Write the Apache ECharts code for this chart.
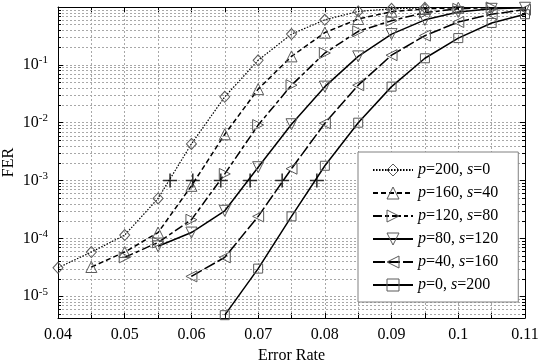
<!DOCTYPE html>
<html><head><meta charset="utf-8">
<script src="https://cdn.jsdelivr.net/npm/echarts@6/dist/echarts.min.js"></script>
<style>html,body{margin:0;padding:0;background:#fff}#c{width:543px;height:364px}</style>
</head><body><div id="c"></div><script>
// ---- data ----
const errorRates = [0.04,0.045,0.05,0.055,0.06,0.065,0.07,0.075,0.08,0.085,0.09,0.095,0.1,0.105,0.11];
const seriesNames = ['p=200, s=0','p=160, s=40','p=120, s=80','p=80, s=120','p=40, s=160','p=0, s=200'];
const fer_p200_s0  = [3.1e-5,5.8e-5,1.14e-4,4.9e-4,4.3e-3,0.028,0.12,0.34,0.60,0.84,0.93,0.97,null,null,null];
const fer_p160_s40 = [null,3.2e-5,5.8e-5,1.26e-4,8.1e-4,6.3e-3,0.038,0.14,0.36,0.62,0.83,0.93,0.97,null,null];
const fer_p120_s80 = [null,null,4.7e-5,8.5e-5,2.1e-4,1.3e-3,9.1e-3,0.0445,0.16,0.38,0.58,0.80,0.93,0.98,null];
const fer_p80_s120 = [null,null,null,7.3e-5,1.26e-4,3.0e-4,1.7e-3,9.4e-3,0.042,0.14,0.34,0.60,0.82,0.93,0.97];
const fer_p40_s160 = [null,null,null,null,2.2e-5,4.7e-5,2.4e-4,1.6e-3,9.8e-3,0.0445,0.147,0.32,0.55,0.75,0.90];
const fer_p0_s200  = [null,null,null,null,null,4.7e-6,3.0e-5,2.4e-4,1.8e-3,0.010,0.042,0.13,0.29,0.53,0.75];
const thresholdRates = [0.0568,0.0602,0.0644,0.0688,0.0736,0.0788];
const thresholdFER = 1e-3;
const xMin = 0.04, xMax = 0.11, yMin = 4.2e-6, yMax = 1;

// minor log grid positions (2..9 x 10^k)
const minorFER = [];
for (let k = -6; k <= -1; k++) for (let m = 2; m <= 9; m++) {
  const v = m * Math.pow(10, k);
  if (v > yMin && v < yMax) minorFER.push(v);
}

const FONT = 'Liberation Serif';
const gridLine = {color:'#a8a8a8', width:1, type:[2,2]};

const styles = [
  {symbol:'diamond', rot:0, size:[10,11], dash:[1.5,1.5], w:1.2},
  {symbol:'triangle', rot:0, size:11, dash:[5,3], w:1.5},
  {symbol:'triangle', rot:-90, size:11, dash:[9,3,4,3], w:1.5},
  {symbol:'triangle', rot:180, size:11, dash:'solid', w:1.5},
  {symbol:'triangle', rot:90, size:11, dash:[12,3], w:1.5},
  {symbol:'rect', rot:0, size:9, dash:'solid', w:1.5}
];
const allFER = [fer_p200_s0, fer_p160_s40, fer_p120_s80, fer_p80_s120, fer_p40_s160, fer_p0_s200];

const lineSeries = allFER.map((vals, i) => ({
  name: seriesNames[i],
  type: 'line',
  data: errorRates.map((x, j) => vals[j] == null ? null : [x, vals[j]]).filter(d => d),
  symbol: styles[i].symbol,
  symbolRotate: styles[i].rot,
  symbolSize: styles[i].size,
  showAllSymbol: true,
  lineStyle: {color:'#000', width: styles[i].w, type: styles[i].dash},
  itemStyle: {color:'rgba(255,255,255,0)', borderColor:'#5a5a5a', borderWidth:1},
  emphasis: {disabled:true},
  animation: false,
  z: 3
}));

const chart = echarts.init(document.getElementById('c'), null, {renderer:'canvas'});
chart.setOption({
  animation: false,
  backgroundColor: '#fff',
  textStyle: {fontFamily: FONT},
  grid: {left:58, right:18, top:7, bottom:46, containLabel:false, outerBoundsMode:'none'},
  legend: {
    data: seriesNames.map(n => ({name:n, itemStyle:{color:'rgba(255,255,255,0)', borderColor:'#5a5a5a', borderWidth:1}})),
    orient: 'vertical', left: 358, top: 152,
    padding: [10, 20, 9, 14],
    itemWidth: 40, itemHeight: 15, itemGap: 7,
    backgroundColor: '#fff', borderColor: '#808080', borderWidth: 1,
    selectedMode: false,
    formatter: n => n.replace(/([ps])=/g, '{i|$1}='),
    textStyle: {fontFamily: FONT, fontSize: 16, lineHeight: 16, color:'#000',
      rich: {i: {fontFamily: FONT, fontSize: 16, lineHeight: 16, fontStyle: 'italic', color:'#000'}}}
  },
  xAxis: [{
    type:'value', min:xMin, max:xMax, interval:0.01,
    name:'Error Rate', nameLocation:'middle', nameGap:26,
    nameTextStyle:{fontFamily:FONT, fontSize:16, color:'#000'},
    axisLine:{show:true, onZero:false, lineStyle:{color:'#000', width:1}},
    axisTick:{show:true, inside:true, length:5, lineStyle:{color:'#000'}},
    minorTick:{show:true, splitNumber:2, length:5, lineStyle:{color:'#000'}},
    splitLine:{show:true, lineStyle:gridLine},
    minorSplitLine:{show:true, lineStyle:gridLine},
    axisLabel:{fontFamily:FONT, fontSize:16, color:'#000', margin:9, formatter: v => String(+v.toFixed(3))}
  },{
    type:'value', min:xMin, max:xMax, interval:0.01, position:'top',
    axisLine:{show:true, onZero:false, lineStyle:{color:'#000', width:1}},
    axisTick:{show:true, inside:true, length:5, lineStyle:{color:'#000'}},
    minorTick:{show:true, splitNumber:2, length:5, lineStyle:{color:'#000'}},
    splitLine:{show:false}, axisLabel:{show:false}
  }],
  yAxis: [{
    type:'log', logBase:10, min:yMin, max:yMax,
    name:'FER', nameLocation:'middle', nameGap:41, nameMoveOverlap:false,
    nameTextStyle:{fontFamily:FONT, fontSize:16, color:'#000'},
    axisLine:{show:true, onZero:false, lineStyle:{color:'#000', width:1}},
    axisTick:{show:true, inside:true, length:5, lineStyle:{color:'#000'}},
    splitLine:{show:true, lineStyle:gridLine},
    axisLabel:{
      showMinLabel:false, showMaxLabel:false, margin:10, color:'#000',
      formatter: v => '{b|10}{s|' + Math.round(Math.log10(v)) + '}',
      rich: {
        b:{fontFamily:FONT, fontSize:16, color:'#000'},
        s:{fontFamily:FONT, fontSize:11, color:'#000', padding:[0,0,9,0]}
      }
    }
  },{
    type:'log', logBase:10, min:yMin, max:yMax, position:'right',
    axisLine:{show:true, onZero:false, lineStyle:{color:'#000', width:1}},
    axisTick:{show:true, inside:true, length:5, lineStyle:{color:'#000'}},
    splitLine:{show:false}, axisLabel:{show:false}
  }],
  series: [
    {
      type:'custom', silent:true, z:1, animation:false,
      data: minorFER.map(v => [xMin, v]),
      renderItem: function (params, api) {
        const cs = params.coordSys;
        const y = Math.round(api.coord([api.value(0), api.value(1)])[1]) + 0.5;
        return {type:'group', children:[
          {type:'line', shape:{x1:cs.x, y1:y, x2:cs.x+cs.width, y2:y}, style:{stroke:'#a8a8a8', lineWidth:1, lineDash:[2,2]}},
          {type:'line', shape:{x1:cs.x, y1:y, x2:cs.x+3, y2:y}, style:{stroke:'#000', lineWidth:1}},
          {type:'line', shape:{x1:cs.x+cs.width-3, y1:y, x2:cs.x+cs.width, y2:y}, style:{stroke:'#000', lineWidth:1}}
        ]};
      }
    },
    ...lineSeries,
    {
      type:'scatter', name:'threshold', silent:true, z:4,
      data: thresholdRates.map(x => [x, thresholdFER]),
      symbol:'path://M0,7L14,7M7,0L7,14', symbolSize:14,
      itemStyle:{color:'none', borderColor:'#000', borderWidth:1.6},
      emphasis:{disabled:true}
    }
  ]
});
</script></body></html>
